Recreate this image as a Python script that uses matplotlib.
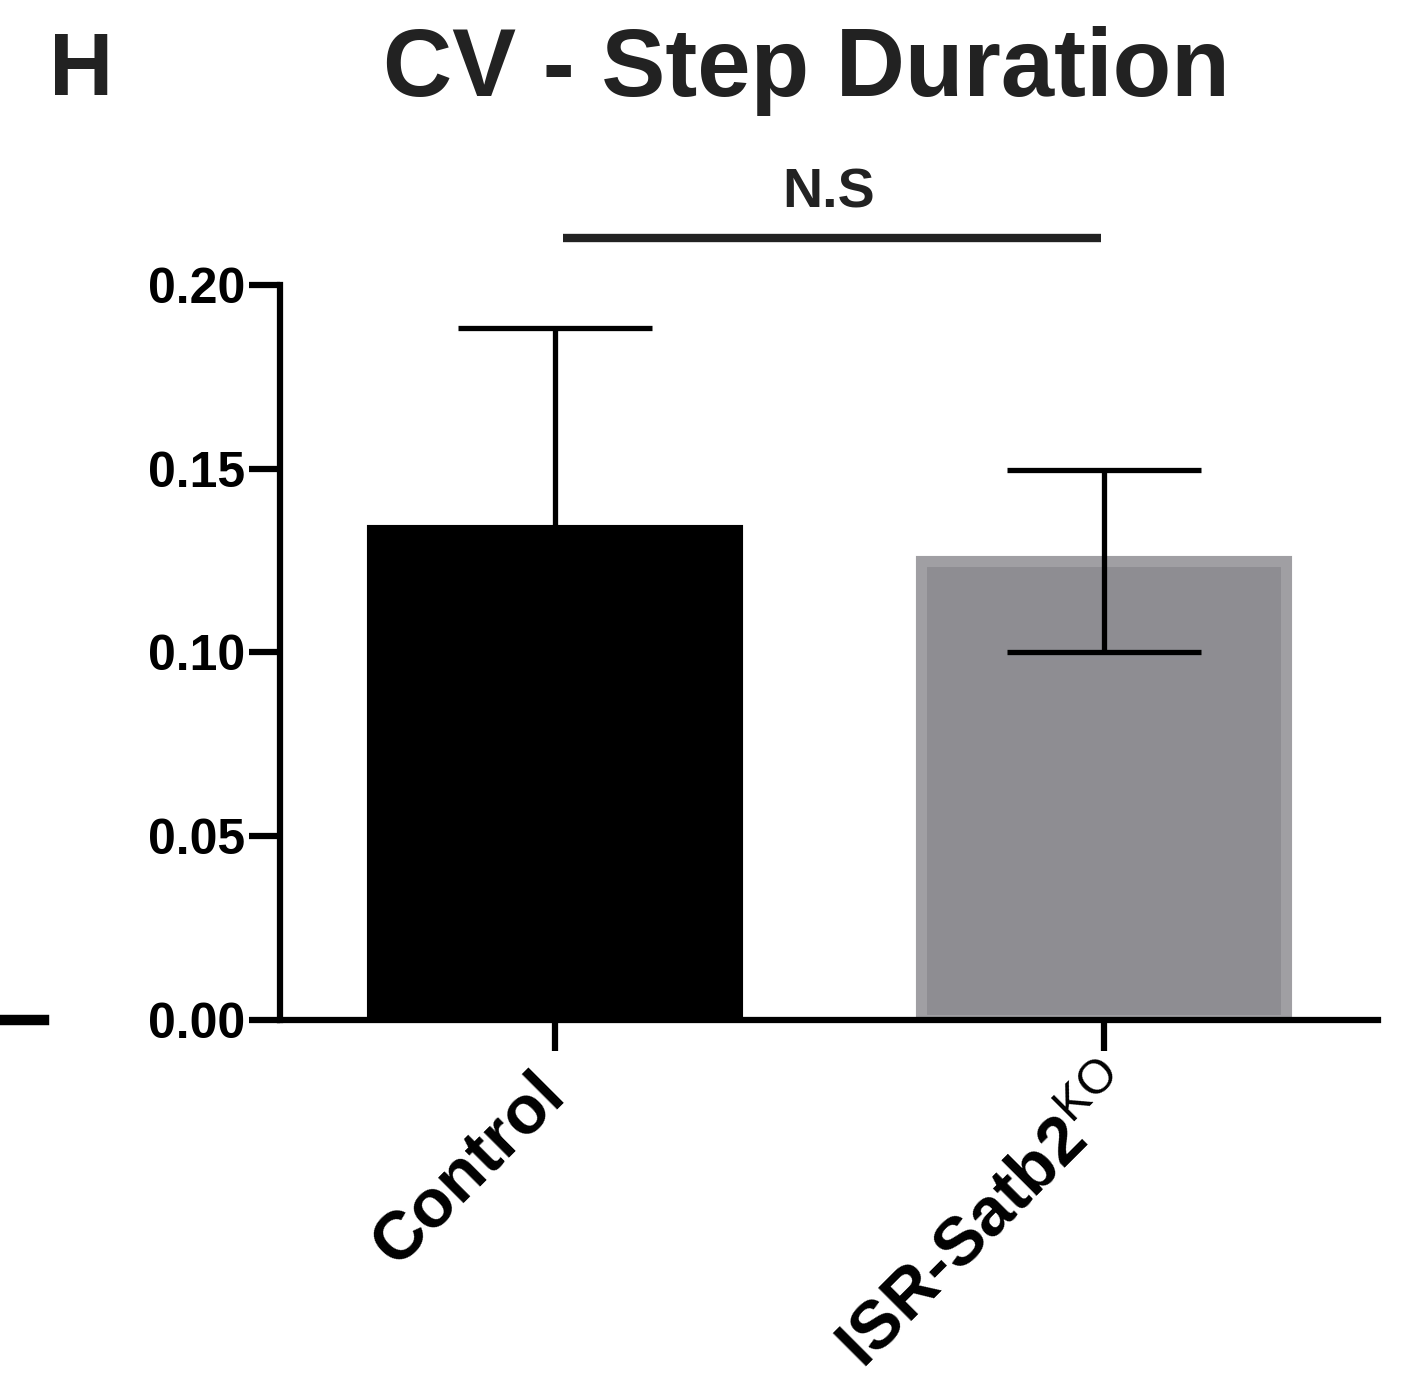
import matplotlib
matplotlib.use("Agg")
import matplotlib.pyplot as plt
from matplotlib.lines import Line2D

plt.rcParams['font.family'] = ['Liberation Sans', 'DejaVu Sans']
plt.rcParams['mathtext.fontset'] = 'custom'
plt.rcParams['mathtext.rm'] = 'Liberation Sans'
plt.rcParams['mathtext.bf'] = 'Liberation Sans:bold'

# values
groups = ['Control', r'ISR-Satb2$^{\mathrm{KO}}$']
means = [0.1333, 0.1248]
sem = [0.0550, 0.0248]
bar_colors = ['#000000', '#8e8d92']
edge_colors = ['#000000', '#a09fa3']
sig_label = 'N.S'
yticks = [0.00, 0.05, 0.10, 0.15, 0.20]

fig = plt.figure(figsize=(14.08, 13.93), dpi=100)
ax = fig.add_axes([0.1989, 0.2678, 0.7798, 0.5276])

x = list(range(len(groups)))
ax.bar(x, means, width=0.665, color=bar_colors, edgecolor=edge_colors,
       linewidth=8, zorder=2)

# control: only the upper whisker, mutant: both
ax.errorbar(x[0], means[0], yerr=[[0], [sem[0]]], fmt='none', ecolor='black',
            elinewidth=3.8, capsize=70, capthick=3.8, zorder=3)
ax.errorbar(x[1], means[1], yerr=sem[1], fmt='none', ecolor='black',
            elinewidth=3.8, capsize=70, capthick=3.8, zorder=3)

ax.set_xlim(-0.5, 1.5)
ax.set_ylim(0, 0.20)
ax.set_yticks(yticks)
ax.set_yticklabels([f'{v:.2f}' for v in yticks], fontsize=36, fontweight='bold')
ax.set_xticks(x)
ax.set_xticklabels(groups, fontsize=49, fontweight='bold', rotation=45,
                   ha='right', rotation_mode='anchor')

for s in ['top', 'right']:
    ax.spines[s].set_visible(False)
for s in ['left', 'bottom']:
    ax.spines[s].set_linewidth(4.5)
ax.tick_params(axis='both', direction='out', length=22, width=4.5)
ax.tick_params(axis='y', pad=3)
ax.tick_params(axis='x', pad=6)

# control label sits a little further left in the original
ctrl_tick = ax.xaxis.get_major_ticks()[0]
ctrl_tick.label1.set_verticalalignment('center')
ctrl_tick.set_pad(24)

# significance bracket
br_y = 0.2128
ax.plot([0.015, 0.995], [br_y, br_y], color='#222222', lw=6, clip_on=False,
        solid_capstyle='butt')
ax.text(0.5, br_y + 0.0049, sig_label, ha='center', va='bottom', fontsize=40,
        fontweight='bold', color='#222222', clip_on=False)

fig.text(0.5727, 0.949, 'CV - Step Duration', ha='center', va='center',
         fontsize=69, fontweight='bold', color='#222222')
fig.text(0.0575, 0.948, 'H', ha='center', va='center', fontsize=64,
         fontweight='bold', color='#222222')

# stray dash on the left edge of the panel
fig.add_artist(Line2D([0.0, 0.031], [0.2678, 0.2678], color='black', lw=7.5,
                      transform=fig.transFigure))

fig.savefig('out.png', dpi=100)
